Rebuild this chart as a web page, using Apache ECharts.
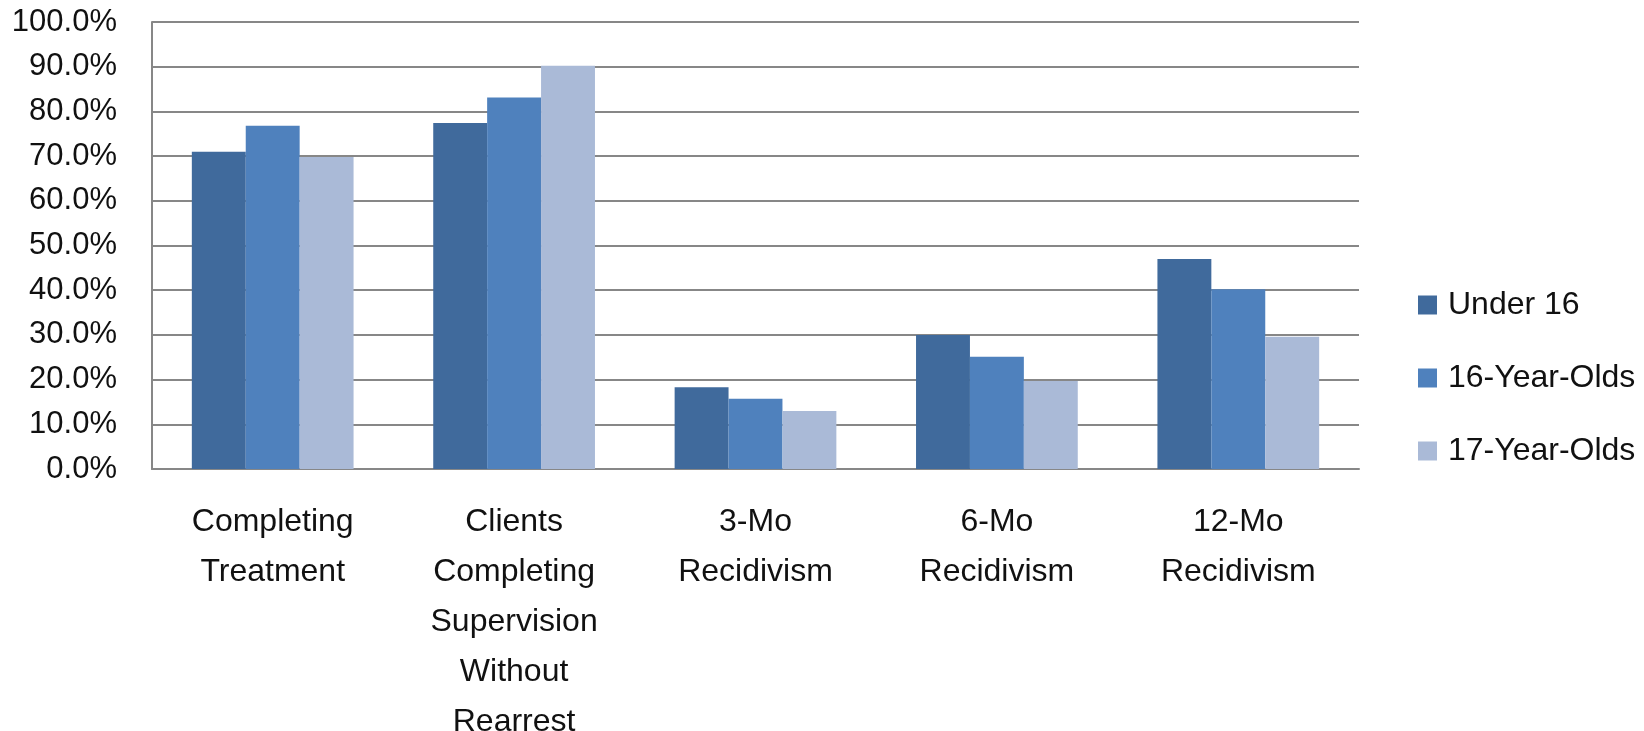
<!DOCTYPE html>
<html>
<head>
<meta charset="utf-8">
<script src="https://cdn.jsdelivr.net/npm/echarts@6/dist/echarts.min.js"></script>
<style>
    html, body { margin: 0; padding: 0; background: #fff; }
    #chart { width: 1644px; height: 731px; }
</style>
</head>
<body>
<div id="chart"></div>
<script>
// categories and series (percent)
var categories = [
    "Completing\nTreatment",
    "Clients\nCompleting\nSupervision\nWithout\nRearrest",
    "3-Mo\nRecidivism",
    "6-Mo\nRecidivism",
    "12-Mo\nRecidivism"
];
var seriesNames = ["Under 16", "16-Year-Olds", "17-Year-Olds"];
var under16 = [71.0, 77.4, 18.3, 30.0, 47.0];
var yearOlds16 = [76.8, 83.1, 15.7, 25.1, 40.2];
var yearOlds17 = [69.8, 90.2, 13.0, 19.7, 29.6];

var colors = ["#406A9C", "#4F81BD", "#AABAD7"];
var gridColor = "#878787";
var font = "Liberation Sans";

var myChart = echarts.init(document.getElementById("chart"));

var option = {
    animation: false,
    backgroundColor: "#ffffff",
    color: colors,
    grid: {
        left: 152,
        right: 285,
        top: 22,
        bottom: 262,
        containLabel: false,
        outerBoundsMode: "none"
    },
    legend: {
        orient: "vertical",
        left: 1413,
        top: 284,
        itemWidth: 19,
        itemHeight: 19,
        itemGap: 41,
        icon: "rect",
        data: seriesNames,
        textStyle: {
            fontFamily: font,
            fontSize: 32,
            lineHeight: 32,
            color: "#111",
            padding: [0, 0, 0, 6]
        }
    },
    xAxis: {
        type: "category",
        data: categories,
        axisLine: { show: true, lineStyle: { color: gridColor, width: 2 } },
        axisTick: { show: false },
        axisLabel: {
            interval: 0,
            margin: 28,
            fontFamily: font,
            fontSize: 32,
            lineHeight: 50,
            color: "#111"
        }
    },
    yAxis: {
        type: "value",
        min: 0,
        max: 100,
        interval: 10,
        axisLine: { show: true, lineStyle: { color: gridColor, width: 2 } },
        axisTick: { show: false },
        splitLine: { show: true, lineStyle: { color: gridColor, width: 2 } },
        axisLabel: {
            margin: 35,
            fontFamily: font,
            fontSize: 31,
            color: "#111",
            formatter: function (v) {
                return v.toFixed(1) + "%";
            }
        }
    },
    series: [
        {
            name: seriesNames[0],
            type: "bar",
            data: under16,
            barGap: "0%",
            barCategoryGap: "33%"
        },
        {
            name: seriesNames[1],
            type: "bar",
            data: yearOlds16,
            barGap: "0%",
            barCategoryGap: "33%"
        },
        {
            name: seriesNames[2],
            type: "bar",
            data: yearOlds17,
            barGap: "0%",
            barCategoryGap: "33%"
        }
    ]
};
myChart.setOption(option);
</script>
</body>
</html>
